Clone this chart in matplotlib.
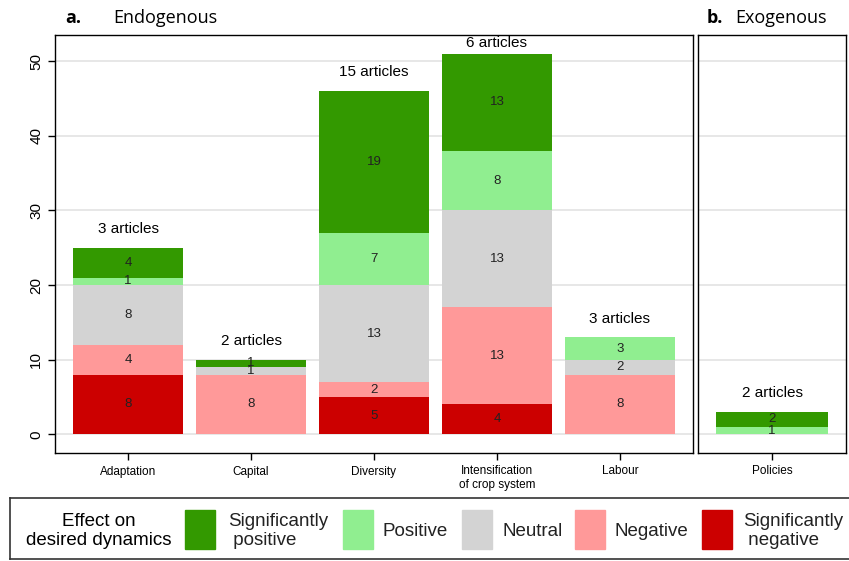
import numpy as np
import matplotlib.pyplot as plt
from matplotlib.patches import Rectangle

plt.rcParams['font.family'] = ['Liberation Sans', 'DejaVu Sans']

endo_cats = ['Adaptation', 'Capital', 'Diversity', 'Intensification\nof crop system', 'Labour']
endo_articles = [3, 2, 15, 6, 3]
exo_cats = ['Policies']
exo_articles = [2]

levels = ['Significantly\n negative', 'Negative', 'Neutral', 'Positive', 'Significantly\n positive']
colors = ['#cc0000', '#ff9999', '#d3d3d3', '#90ee90', '#339900']

# stacked from bottom: sig. negative, negative, neutral, positive, sig. positive
endo_sig_neg = [8, 0, 5, 4, 0]
endo_neg = [4, 8, 2, 13, 8]
endo_neu = [8, 1, 13, 13, 2]
endo_pos = [1, 0, 7, 8, 3]
endo_sig_pos = [4, 1, 19, 13, 0]

exo_sig_neg = [0]
exo_neg = [0]
exo_neu = [0]
exo_pos = [1]
exo_sig_pos = [2]

W, H = 849, 561
fig = plt.figure(figsize=(W / 100, H / 100), dpi=100)


def px_axes(l, t, r, b):
    return fig.add_axes([l / W, 1 - b / H, (r - l) / W, (b - t) / H])


def draw_panel(ax, cats, series, articles):
    x = np.arange(len(cats))
    bottom = np.zeros(len(cats))
    for vals, col in zip(series, colors):
        vals = np.array(vals, dtype=float)
        ax.bar(x, vals, 0.9, bottom=bottom, color=col, zorder=2)
        for xi, b, v in zip(x, bottom, vals):
            if v > 0:
                ax.text(xi, b + v / 2, str(int(v)), ha='center', va='center',
                        fontsize=9.5, color='#222222', zorder=3)
        bottom += vals
    for xi, tot, n in zip(x, bottom, articles):
        # tallest label is squeezed under the frame
        ax.text(xi, min(tot + 2.5, 52.4), f'{n} articles', ha='center',
                va='center', fontsize=11)
    ax.set_xticks(x)
    ax.set_xticklabels(cats, fontsize=8.5)
    ax.set_ylim(-2.5, 53.5)
    ax.set_xlim(-0.595, len(cats) - 1 + 0.595)
    ax.set_yticks(np.arange(0, 51, 10))
    ax.yaxis.grid(True, color='#e3e3e3', lw=1.2, zorder=0)
    ax.tick_params(axis='x', length=5, width=1, pad=4)
    for s in ax.spines.values():
        s.set_linewidth(1)


ax1 = px_axes(55, 35, 693, 453)
draw_panel(ax1, endo_cats,
           [endo_sig_neg, endo_neg, endo_neu, endo_pos, endo_sig_pos], endo_articles)
ax1.tick_params(axis='y', labelsize=11, length=5, width=1, labelrotation=90)
for lab in ax1.get_yticklabels():
    lab.set_va('center')

ax2 = px_axes(698, 35, 846, 453)
draw_panel(ax2, exo_cats,
           [exo_sig_neg, exo_neg, exo_neu, exo_pos, exo_sig_pos], exo_articles)
ax2.tick_params(axis='y', left=False, labelleft=False)

fig.text(65 / W, 1 - 18 / H, 'a.', fontsize=13, fontweight='bold', va='center',
         family=['Open Sans', 'DejaVu Sans'])
fig.text(113 / W, 1 - 18 / H, 'Endogenous', fontsize=13, va='center',
         family=['Open Sans', 'DejaVu Sans'])
fig.text(707 / W, 1 - 18 / H, 'b.', fontsize=13, fontweight='bold', va='center',
         family=['Open Sans', 'DejaVu Sans'])
fig.text(735 / W, 1 - 18 / H, 'Exogenous', fontsize=13, va='center',
         family=['Open Sans', 'DejaVu Sans'])

# legend box
lax = px_axes(10, 498, 849, 559)
lax.set_xlim(10, 849)
lax.set_ylim(559, 498)
lax.set_xticks([])
lax.set_yticks([])
for s in lax.spines.values():
    s.set_linewidth(1.2)
    s.set_color('#333333')
lax.spines['right'].set_visible(False)

lax.text(99, 531, 'Effect on\ndesired dynamics', ha='center', va='center',
         fontsize=13.5, linespacing=1.1)
leg_order = [4, 3, 2, 1, 0]
patch_x = [185, 343, 462, 575, 702]
text_x = [228, 383, 503, 615, 743]
for i, px, tx in zip(leg_order, patch_x, text_x):
    lax.add_patch(Rectangle((px, 510), 30, 39, color=colors[i]))
    lax.text(tx, 531, levels[i], ha='left', va='center', fontsize=13.5,
             linespacing=1.1, color='#222222')

fig.savefig('out.png', dpi=100)
